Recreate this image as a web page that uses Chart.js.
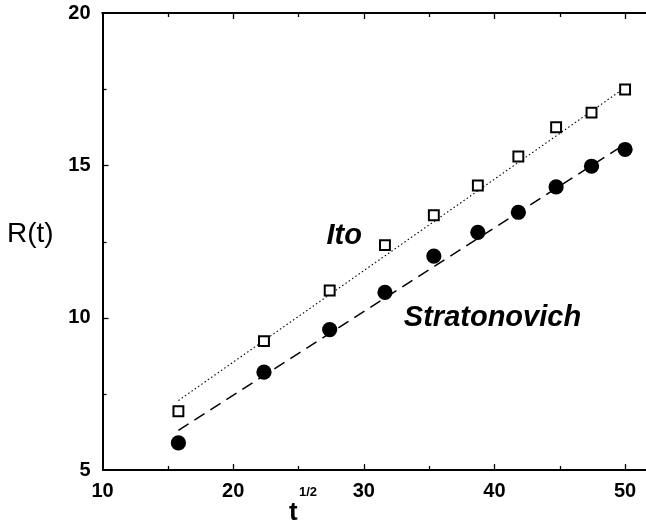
<!DOCTYPE html>
<html>
<head>
<meta charset="utf-8">
<script src="https://cdn.jsdelivr.net/npm/chart.js@4"></script>
<style>
  html, body { margin: 0; padding: 0; background: #fff; overflow: hidden; }
  #wrap { width: 646px; height: 525px; position: relative; }
</style>
</head>
<body>
<div id="wrap"><canvas id="c" width="646" height="525"></canvas></div>
<script>
// ---- data ----
const xValues      = [15.81, 22.36, 27.39, 31.62, 35.36, 38.73, 41.83, 44.72, 47.43, 50.0];
const itoValues    = [6.93, 9.23, 10.89, 12.38, 13.36, 14.34, 15.29, 16.25, 16.73, 17.49];
const stratValues  = [5.89, 8.21, 9.61, 10.83, 12.02, 12.80, 13.46, 14.29, 14.97, 15.52];
const itoFitX      = [15.81, 50.0];
const itoFitY      = [7.28, 17.55];
const stratFitX    = [15.81, 50.0];
const stratFitY    = [6.30, 15.70];
const xTickValues  = [10, 20, 30, 40, 50];
const xMinorTicks  = [15, 25, 35, 45];
const yTickValues  = [5, 10, 15, 20];
const yMinorTicks  = [7.5, 12.5, 17.5];
const labelIto     = { text: 'Ito', x: 28.5, y: 12.67 };
const labelStrat   = { text: 'Stratonovich', x: 39.85, y: 9.98 };

const toPts = (xs, ys) => xs.map((x, i) => ({ x: x, y: ys[i] }));
const FONT = '"Liberation Sans", Arial, Helvetica, sans-serif';

const decorPlugin = {
  id: 'decor',
  afterDraw(chart) {
    const ctx = chart.ctx, xs = chart.scales.x, ys = chart.scales.y, a = chart.chartArea;
    ctx.save();
    ctx.strokeStyle = '#000';
    // top frame
    ctx.lineWidth = 2;
    ctx.beginPath(); ctx.moveTo(a.left - 1, a.top); ctx.lineTo(a.right, a.top); ctx.stroke();
    // inward ticks
    ctx.lineWidth = 1.3;
    const xt = (vals, len) => vals.forEach(v => {
      const p = Math.round(xs.getPixelForValue(v)) + 0.5;
      ctx.beginPath(); ctx.moveTo(p, a.bottom); ctx.lineTo(p, a.bottom - len); ctx.stroke();
      ctx.beginPath(); ctx.moveTo(p, a.top); ctx.lineTo(p, a.top + len); ctx.stroke();
    });
    const yt = (vals, len) => vals.forEach(v => {
      const p = Math.round(ys.getPixelForValue(v)) + 0.5;
      ctx.beginPath(); ctx.moveTo(a.left, p); ctx.lineTo(a.left + len, p); ctx.stroke();
    });
    xt(xTickValues.filter(v => v > xs.min), 6); xt(xMinorTicks, 4);
    yt(yTickValues.filter(v => v > ys.min && v < ys.max), 6); yt(yMinorTicks, 4);
    // annotations
    ctx.fillStyle = '#000';
    ctx.textAlign = 'center'; ctx.textBaseline = 'middle';
    ctx.font = 'italic bold 29px ' + FONT;
    [labelIto, labelStrat].forEach(l => {
      ctx.fillText(l.text, xs.getPixelForValue(l.x), ys.getPixelForValue(l.y));
    });
    // axis titles
    ctx.textAlign = 'left'; ctx.textBaseline = 'alphabetic';
    ctx.font = '28px ' + FONT;
    ctx.fillText('R(t)', 7, 242);
    ctx.font = 'bold 26px ' + FONT;
    ctx.fillText('t', 289, 520);
    ctx.font = 'bold 13px ' + FONT;
    ctx.fillText('1/2', 299, 496);
    ctx.restore();
  }
};

new Chart(document.getElementById('c'), {
  type: 'scatter',
  data: {
    datasets: [
      { type: 'line', data: toPts(itoFitX, itoFitY), borderColor: '#000', borderWidth: 1.1,
        borderDash: [1.5, 2.5], pointRadius: 0, fill: false, order: 3 },
      { type: 'line', data: toPts(stratFitX, stratFitY), borderColor: '#000', borderWidth: 1.5,
        borderDash: [12, 7], pointRadius: 0, fill: false, order: 3 },
      { data: toPts(xValues, itoValues), pointStyle: 'rect', pointRadius: 7,
        backgroundColor: '#fff', borderColor: '#000', borderWidth: 2, order: 1 },
      { data: toPts(xValues, stratValues), pointStyle: 'circle', pointRadius: 7.6,
        backgroundColor: '#000', borderColor: '#000', borderWidth: 0, order: 1 }
    ]
  },
  options: {
    responsive: false,
    animation: false,
    events: [],
    layout: { autoPadding: false, padding: { top: 13, right: 0, left: 0, bottom: 0 } },
    plugins: { legend: { display: false }, tooltip: { enabled: false } },
    scales: {
      x: {
        type: 'linear', min: 10, max: 51.6,
        afterBuildTicks: s => { s.ticks = xTickValues.map(v => ({ value: v })); },
        afterFit: s => { s.height = 55; s.paddingLeft = 0; s.paddingRight = 0; },
        grid: { display: false, drawTicks: false },
        border: { display: true, color: '#000', width: 2 },
        ticks: { padding: 9, color: '#000', font: { family: FONT, size: 20, weight: 'bold' } }
      },
      y: {
        type: 'linear', min: 5, max: 20,
        afterBuildTicks: s => { s.ticks = yTickValues.map(v => ({ value: v })); },
        afterFit: s => { s.width = 102.5; s.paddingTop = 0; s.paddingBottom = 0; },
        grid: { display: false, drawTicks: false },
        border: { display: true, color: '#000', width: 2 },
        ticks: { padding: 12, color: '#000', font: { family: FONT, size: 20, weight: 'bold' } }
      }
    }
  },
  plugins: [decorPlugin]
});
</script>
</body>
</html>
